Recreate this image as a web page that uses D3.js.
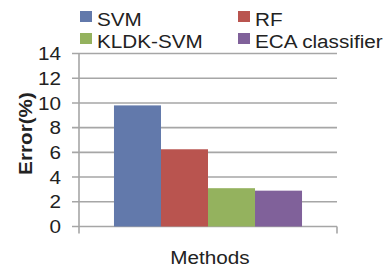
<!DOCTYPE html>
<html>
<head>
<meta charset="utf-8">
<script src="https://cdn.jsdelivr.net/npm/d3@7"></script>
<style>
  body { margin: 0; background: #fff; }
  text { font-family: "Liberation Sans", Arial, sans-serif; fill: #222; }
</style>
</head>
<body>
<svg id="chart" width="389" height="270"></svg>
<script>
var categories = ["Methods"];
var series = ["SVM", "RF", "KLDK-SVM", "ECA classifier"];
var errors = [9.8, 6.25, 3.1, 2.9];
var yTicks = [0, 2, 4, 6, 8, 10, 12, 14];
var colors = ["#6279ab", "#b9544f", "#94b25e", "#80619a"];

var svg = d3.select("#chart");
var pLeft = 79, pRight = 337, pTop = 53.5, pBottom = 226.5;
var sx = 1.09; // glyphs in the picture are a bit wider than tall

var x0 = d3.scaleBand()
  .domain(categories)
  .range([pLeft, pRight])
  .paddingInner(0)
  .paddingOuter(0.186);

var x1 = d3.scaleBand()
  .domain(series)
  .range([0, x0.bandwidth()])
  .padding(0);

var y = d3.scaleLinear()
  .domain([0, 14])
  .range([pBottom, pTop]);

// gridlines
svg.append("g")
  .selectAll("line")
  .data(yTicks)
  .enter()
  .append("line")
  .attr("x1", pLeft - 7)
  .attr("x2", pRight)
  .attr("y1", function(d){ return y(d); })
  .attr("y2", function(d){ return y(d); })
  .attr("stroke", "#a6a6a6")
  .attr("stroke-width", 1.6);

// bars
svg.append("g")
  .selectAll("rect")
  .data(errors)
  .enter()
  .append("rect")
  .attr("x", function(d, i){ return x0("Methods") + x1(series[i]); })
  .attr("y", function(d){ return y(d); })
  .attr("width", x1.bandwidth())
  .attr("height", function(d){ return pBottom - y(d); })
  .attr("fill", function(d, i){ return colors[i]; });

// y axis line + bottom ticks
svg.append("line")
  .attr("x1", pLeft).attr("x2", pLeft)
  .attr("y1", pTop).attr("y2", pBottom + 7)
  .attr("stroke", "#a6a6a6").attr("stroke-width", 1.6);
svg.append("line")
  .attr("x1", pRight).attr("x2", pRight)
  .attr("y1", pBottom).attr("y2", pBottom + 7)
  .attr("stroke", "#a6a6a6").attr("stroke-width", 1.6);

// tick labels
svg.append("g")
  .selectAll("text")
  .data(yTicks)
  .enter()
  .append("text")
  .attr("transform", function(d){ return "translate(61," + y(d) + ") scale(" + sx + ",1)"; })
  .attr("dy", "0.35em")
  .attr("text-anchor", "end")
  .attr("font-size", "19px")
  .text(function(d){ return d; });

// axis titles
svg.append("text")
  .attr("transform", "translate(32,133.5) rotate(-90) scale(" + sx + ",1)")
  .attr("text-anchor", "middle")
  .attr("font-size", "19px")
  .attr("font-weight", "bold")
  .text("Error(%)");

svg.append("text")
  .attr("transform", "translate(210,264) scale(" + sx + ",1)")
  .attr("text-anchor", "middle")
  .attr("font-size", "19px")
  .text("Methods");

// legend
var legendPos = [[80, 11], [238, 11], [80, 33], [238, 33]];
var lg = svg.append("g")
  .selectAll("g")
  .data(series)
  .enter()
  .append("g")
  .attr("transform", function(d, i){ return "translate(" + legendPos[i] + ")"; });

lg.append("rect")
  .attr("width", 12)
  .attr("height", 11)
  .attr("fill", function(d, i){ return colors[i]; });

lg.append("text")
  .attr("transform", "translate(17,15) scale(" + sx + ",1)")
  .attr("font-size", "19px")
  .text(function(d){ return d; });
</script>
</body>
</html>
